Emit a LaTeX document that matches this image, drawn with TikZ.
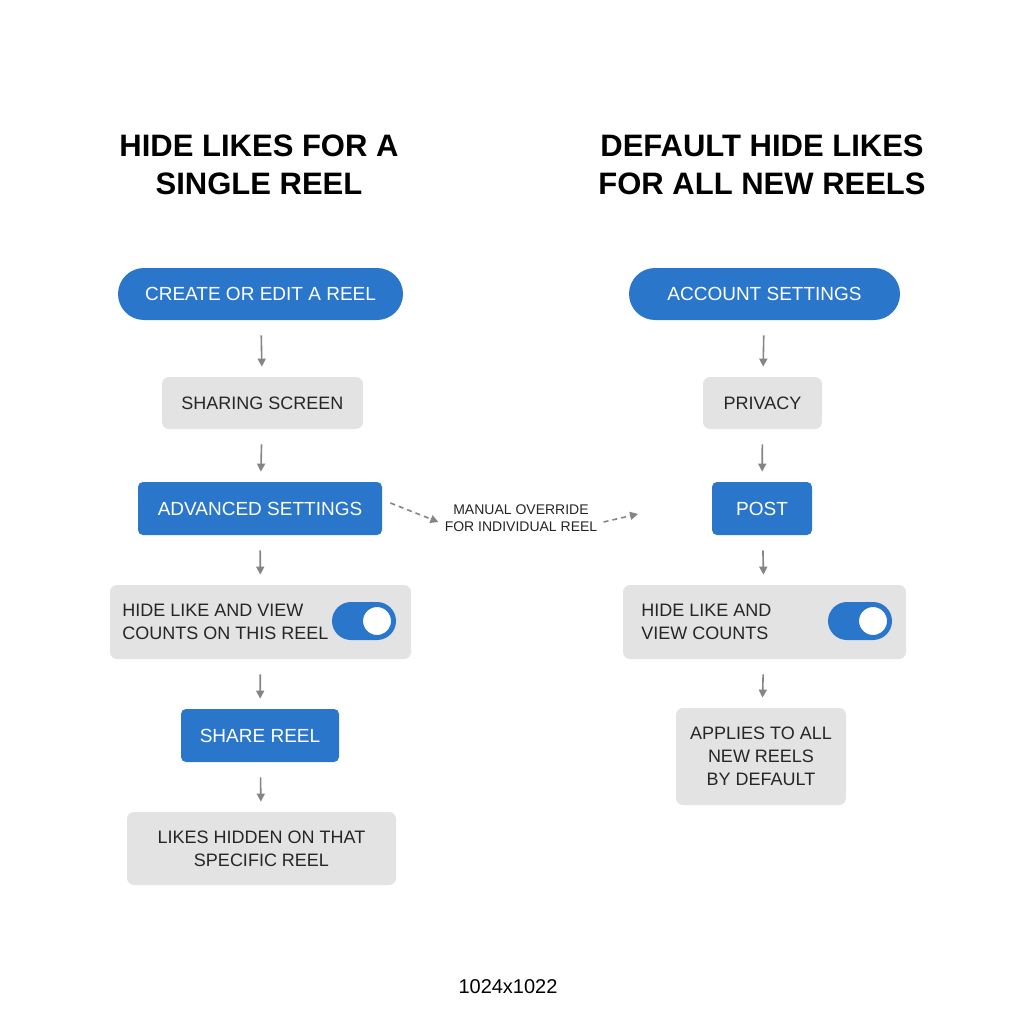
\documentclass[tikz,border=0pt]{standalone}
\usepackage{fontspec}
\setmainfont{Liberation Sans}
\usetikzlibrary{arrows.meta}
\definecolor{reelblue}{HTML}{2A76CA}
\definecolor{boxgray}{HTML}{E3E3E3}
\definecolor{arrgray}{HTML}{858585}
\tikzset{
  every picture/.style={line width=0.75pt},
  title/.style={font=\fontsize{31}{38}\selectfont\bfseries, align=center, text=black},
  pillbox/.style={fill=reelblue, text=white, rounded corners=26pt, font=\fontsize{19}{23}\selectfont, inner sep=0pt},
  bluebox/.style={fill=reelblue, text=white, rounded corners=5pt, font=\fontsize{19}{23}\selectfont, inner sep=0pt},
  graybox/.style={fill=boxgray, text=black!85, rounded corners=7pt, font=\fontsize{18}{23}\selectfont, inner sep=0pt, align=center},
  flow/.style={draw=arrgray, line width=1.6pt, -{Triangle[length=8pt,width=8pt]}, shorten <=15pt, shorten >=10pt},
  dflow/.style={draw=arrgray, line width=1.6pt, dashed, dash pattern=on 5pt off 4pt, -{Triangle[length=8pt,width=8pt]}},
}
\begin{document}
\begin{tikzpicture}[x=1pt,y=-1pt]
	\useasboundingbox[fill=white] (0,0) rectangle (1024,1024);

	% titles
	\node[title] (tl) at (259,165) {HIDE LIKES FOR A\\SINGLE REEL};
	\node[title] (tr) at (762,165) {DEFAULT HIDE LIKES\\FOR ALL NEW REELS};

	% left column
	\node[pillbox, minimum width=285pt, minimum height=52pt] (create) at (260.5,294) {CREATE OR EDIT A REEL};
	\node[graybox, minimum width=201pt, minimum height=52pt] (share) at (262.5,403) {SHARING SCREEN};
	\node[bluebox, minimum width=244pt, minimum height=53pt] (adv) at (260,508.5) {ADVANCED SETTINGS};
	\node[graybox, minimum width=301pt, minimum height=74pt] (hidel) at (260.5,622) {};
	\node[font=\fontsize{18}{23}\selectfont, align=left, text=black!85, anchor=west, inner sep=0pt] (hideltxt) at (122,622) {HIDE LIKE AND VIEW\\COUNTS ON THIS REEL};
	\node[fill=reelblue, rounded corners=19pt, minimum width=64pt, minimum height=38pt, inner sep=0pt] (togl) at (364,621) {};
	\draw[fill=white, draw=reelblue, line width=2pt] (377,621) circle (15pt);
	\node[bluebox, minimum width=158pt, minimum height=53pt] (sreel) at (260,735.5) {SHARE REEL};
	\node[graybox, minimum width=269pt, minimum height=73pt] (hidden) at (261.5,848.5) {LIKES HIDDEN ON THAT\\SPECIFIC REEL};

	% right column
	\node[pillbox, minimum width=271pt, minimum height=52pt] (acct) at (764.5,294) {ACCOUNT SETTINGS};
	\node[graybox, minimum width=119pt, minimum height=52pt] (priv) at (762.5,403) {PRIVACY};
	\node[bluebox, minimum width=100pt, minimum height=53pt] (post) at (762,508.5) {POST};
	\node[graybox, minimum width=283pt, minimum height=74pt] (hider) at (764.5,622) {};
	\node[font=\fontsize{18}{23}\selectfont, align=left, text=black!85, anchor=west, inner sep=0pt] (hidertxt) at (641,622) {HIDE LIKE AND\\VIEW COUNTS};
	\node[fill=reelblue, rounded corners=19pt, minimum width=64pt, minimum height=38pt, inner sep=0pt] (togr) at (860,621) {};
	\draw[fill=white, draw=reelblue, line width=2pt] (873,621) circle (15pt);
	\node[graybox, minimum width=170pt, minimum height=97pt] (applies) at (761,756.5) {APPLIES TO ALL\\NEW REELS\\BY DEFAULT};

	% connections
	\draw[flow] (create) -- (share);
	\draw[flow] (share) -- (adv);
	\draw[flow] (adv) -- (hidel);
	\draw[flow] (hidel) -- (sreel);
	\draw[flow] (sreel) -- (hidden);
	\draw[flow] (acct) -- (priv);
	\draw[flow] (priv) -- (post);
	\draw[flow] (post) -- (hider);
	\draw[flow] (hider) -- (applies);

	% manual override
	\node[font=\fontsize{14}{17}\selectfont, align=center, text=black!85, inner sep=0pt] (override) at (521,518) {MANUAL OVERRIDE\\FOR INDIVIDUAL REEL};
	\coordinate (ovend) at (638,514);
	\draw[dflow] ([xshift=8pt,yshift=5.5pt]adv.east) -- ([xshift=-6pt,yshift=-4pt]override.west);
	\draw[dflow] ([xshift=6pt,yshift=-4pt]override.east) -- (ovend);

	% footer
	\node[font=\fontsize{20}{24}\selectfont, inner sep=0pt] (size) at (508,987) {1024x1022};
\end{tikzpicture}
\end{document}
